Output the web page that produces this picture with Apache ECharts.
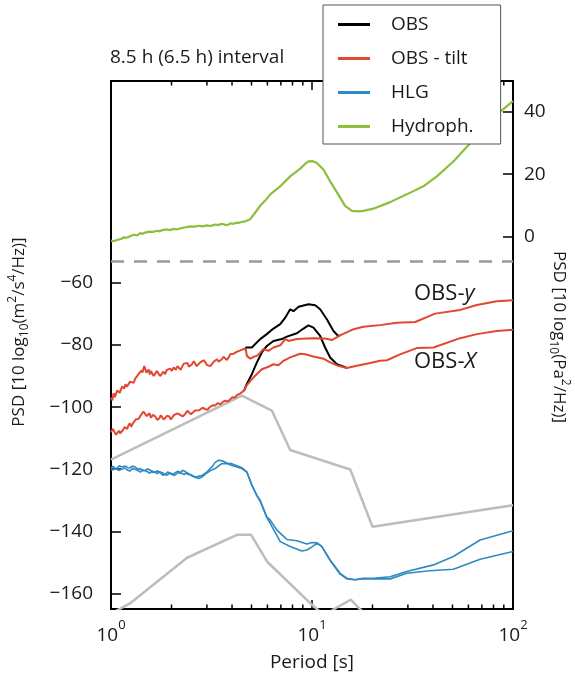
<!DOCTYPE html>
<html><head><meta charset="utf-8">
<script src="https://cdn.jsdelivr.net/npm/echarts@6/dist/echarts.min.js"></script>
<style>html,body{margin:0;padding:0;background:#fff}#c{width:575px;height:677px}</style>
</head><body><div id="c"></div>
<script>
// ---------- data (period [s], PSD) ----------
const periodMin = 1, periodMax = 100;
const minorPeriodTicks = [2,3,4,5,6,7,8,9,20,30,40,50,60,70,80,90];
const leftTickValues = [-160,-140,-120,-100,-80,-60];
const rightTickValues = [0,20,40];
const leftRange = [-165, 5];
const rightRange = [-120, 50];
const separatorLevel = -53;

const hydroph = [[1,-1.4],[1.03,-1.6],[1.05,-1.0],[1.08,-1.1],[1.1,-0.6],[1.13,-0.8],[1.16,-0.3],[1.19,-0.5],[1.22,-0.2],[1.26,0.2],[1.3,0.5],[1.35,0.3],[1.4,1.0],[1.44,0.8],[1.48,1.2],[1.55,1.5],[1.62,1.4],[1.69,1.8],[1.75,1.6],[1.8,2.0],[1.9,2.2],[1.97,2.0],[2.05,2.4],[2.12,2.2],[2.2,2.5],[2.35,2.9],[2.48,3.2],[2.6,3.1],[2.75,3.4],[2.85,3.2],[3.0,3.5],[3.1,3.3],[3.2,3.5],[3.3,3.8],[3.4,3.6],[3.5,3.9],[3.63,3.9],[3.75,3.6],[3.85,3.8],[3.95,4.2],[4.07,4.0],[4.2,4.4],[4.3,4.3],[4.45,4.6],[4.6,4.7],[4.93,5.5],[5.2,7.5],[5.52,9.8],[5.85,11.5],[6.2,13.5],[6.95,16.1],[7.79,19.3],[8.74,21.8],[9.2,23.2],[9.6,24.1],[10.1,24.2],[10.57,23.6],[11.4,21.5],[12.3,17.7],[13.5,13.5],[14.6,9.8],[15.8,8.2],[17,8.0],[18,8.2],[20.2,8.9],[24.5,11],[29.6,13.5],[35.8,16.1],[41.8,19.3],[50.5,24.1],[61.1,29.9],[76.9,37.4],[100,43.5]];

const obsTiltY = [[1,-96.9],[1.015,-97.8],[1.03,-95.5],[1.045,-96.8],[1.06,-96.2],[1.075,-94.6],[1.09,-94.2],[1.105,-95.4],[1.12,-94.8],[1.135,-93.4],[1.15,-93.1],[1.165,-94.0],[1.18,-92.6],[1.2,-93.4],[1.22,-93.0],[1.245,-91.8],[1.27,-91.5],[1.295,-92.2],[1.32,-90.8],[1.345,-90.1],[1.37,-89.4],[1.395,-89.9],[1.42,-88.2],[1.435,-88.9],[1.45,-87.6],[1.465,-86.8],[1.48,-87.0],[1.5,-88.9],[1.52,-88.5],[1.54,-87.9],[1.56,-89.5],[1.58,-88.4],[1.6,-88.8],[1.63,-90.0],[1.66,-89.6],[1.69,-88.4],[1.72,-88.8],[1.755,-90.0],[1.79,-89.3],[1.825,-88.6],[1.86,-89.4],[1.895,-88.0],[1.93,-88.5],[1.97,-87.6],[2.01,-88.3],[2.05,-87.2],[2.1,-88.0],[2.14,-86.8],[2.18,-87.2],[2.22,-88.0],[2.25,-87.2],[2.3,-86.0],[2.35,-86.5],[2.4,-85.8],[2.44,-87.0],[2.49,-86.4],[2.53,-86.2],[2.58,-85.2],[2.62,-85.9],[2.67,-86.8],[2.72,-86.3],[2.78,-85.6],[2.83,-85.1],[2.89,-84.9],[2.95,-85.6],[3.0,-86.4],[3.06,-85.9],[3.12,-86.8],[3.18,-86.2],[3.24,-85.4],[3.3,-85.0],[3.37,-84.6],[3.43,-85.4],[3.5,-84.8],[3.56,-84.6],[3.63,-83.8],[3.7,-84.2],[3.77,-84.8],[3.85,-84.0],[3.92,-83.0],[3.99,-83.5],[4.07,-82.8],[4.15,-83.2],[4.22,-82.2],[4.3,-82.6],[4.37,-81.8],[4.45,-82.2],[4.52,-81.4],[4.6,-81.6],[4.68,-81.2],[4.74,-83.5],[4.93,-84.4],[5.12,-83.8],[5.32,-83.5],[5.52,-82.5],[5.74,-81.3],[6.07,-81.9],[6.43,-80.8],[6.95,-80.1],[7.36,-78.1],[7.64,-78.7],[8.41,-78.1],[9.4,-77.9],[10.17,-77.8],[11.62,-77.9],[12.56,-78.4],[13.8,-76.9],[16.1,-74.9],[18,-74.1],[21.8,-73.6],[26.4,-72.8],[32.6,-72.6],[41,-69.9],[54.6,-68.7],[66.1,-67.1],[83,-65.9],[100,-65.6]];

const obsTiltX = [[1,-108.1],[1.02,-107.0],[1.04,-107.5],[1.06,-108.9],[1.08,-108.6],[1.095,-107.6],[1.11,-108.4],[1.13,-107.9],[1.15,-107.3],[1.17,-106.4],[1.19,-106.2],[1.205,-107.0],[1.22,-105.9],[1.24,-105.2],[1.26,-106.3],[1.28,-105.4],[1.3,-104.9],[1.33,-103.9],[1.37,-103.8],[1.395,-103.0],[1.42,-102.6],[1.45,-101.4],[1.48,-101.7],[1.505,-102.9],[1.53,-102.8],[1.555,-102.0],[1.58,-103.4],[1.62,-102.5],[1.66,-103.0],[1.7,-104.1],[1.74,-103.6],[1.77,-102.6],[1.8,-102.9],[1.83,-104.0],[1.86,-103.8],[1.9,-102.8],[1.95,-103.0],[1.985,-104.0],[2.02,-103.4],[2.055,-102.6],[2.09,-103.0],[2.14,-102.0],[2.2,-102.4],[2.27,-103.0],[2.34,-102.2],[2.4,-101.2],[2.45,-101.5],[2.5,-102.3],[2.55,-101.9],[2.62,-101.1],[2.68,-101.6],[2.75,-101.0],[2.85,-100.2],[2.94,-100.6],[3.02,-100.9],[3.1,-100.0],[3.2,-99.4],[3.3,-99.5],[3.4,-98.7],[3.5,-99.1],[3.6,-98.3],[3.7,-97.9],[3.8,-98.2],[3.9,-97.6],[4.02,-96.8],[4.15,-96.9],[4.22,-96.2],[4.3,-96.0],[4.4,-95.6],[4.48,-95.3],[4.6,-94.6],[4.74,-92.9],[5.12,-90.4],[5.63,-87.8],[6.07,-87.0],[6.43,-86.2],[6.81,-86.5],[7.21,-85.1],[7.79,-84.0],[8.73,-82.8],[9.25,-83.0],[10.17,-83.7],[11.4,-84.4],[12.31,-85.6],[13.5,-86.7],[14.9,-87.4],[16.7,-86.7],[19.5,-85.8],[21.8,-85.1],[23.6,-84.9],[27.4,-83.0],[33.2,-81.0],[40.2,-80.8],[54.6,-77.8],[66.1,-76.5],[83,-75.5],[100,-75.1]];

const obsRawY = [[4.6,-81.6],[4.68,-81.2],[4.71,-80.8],[5.02,-80.8],[5.52,-78.1],[5.96,-76.5],[6.43,-74.7],[6.95,-73.3],[7.36,-71.2],[7.79,-68.5],[8.09,-69.1],[8.57,-67.7],[9.6,-66.9],[10.37,-67.2],[10.98,-68.5],[11.85,-71.7],[12.79,-75.5],[13.5,-77.1],[13.8,-76.9]];

const obsRawX = [[4.6,-94.6],[4.71,-92.9],[5.02,-89.4],[5.32,-85.6],[5.63,-82.4],[5.96,-80.3],[6.43,-78.7],[7.08,-78.1],[7.5,-77.3],[8.41,-76.2],[9.07,-74.7],[9.6,-73.7],[10.17,-74.4],[10.98,-77.1],[11.62,-80.8],[12.31,-84.0],[13.3,-86.2],[14.3,-86.9],[14.9,-87.4]];

const hlgA = [[1,-119.8],[1.02,-119.0],[1.04,-119.2],[1.06,-120.0],[1.08,-119.6],[1.1,-118.9],[1.13,-119.3],[1.15,-119.9],[1.18,-119.0],[1.21,-119.5],[1.24,-119.6],[1.28,-119.0],[1.32,-119.3],[1.36,-120.0],[1.4,-119.8],[1.44,-120.5],[1.48,-120.4],[1.52,-119.9],[1.57,-120.3],[1.61,-121.0],[1.66,-120.9],[1.71,-120.5],[1.76,-121.2],[1.81,-121.9],[1.86,-121.7],[1.91,-120.9],[1.97,-121.2],[2.03,-121.6],[2.09,-121.1],[2.15,-120.6],[2.2,-121.4],[2.27,-120.3],[2.34,-120.7],[2.4,-121.6],[2.45,-121.2],[2.5,-121.8],[2.55,-122.0],[2.62,-122.5],[2.72,-122.3],[2.83,-122.0],[2.95,-121.3],[3.05,-120.4],[3.2,-119.0],[3.3,-117.8],[3.43,-117.1],[3.56,-117.3],[3.7,-117.7],[3.85,-118.3],[3.99,-118.8],[4.2,-119.2],[4.48,-119.8],[4.74,-120.9],[5.02,-125.2],[5.32,-128.4],[5.52,-130.0],[5.96,-135.3],[6.2,-136.4],[6.69,-139.6],[7.5,-142.6],[8.41,-143.0],[9.43,-144.1],[10.0,-143.6],[10.6,-143.7],[11.2,-144.9],[12.31,-149.2],[13.8,-153.5],[14.9,-155.1],[16.3,-155.6],[18,-155.1],[20.2,-155.1],[24.5,-154.6],[29.6,-152.9],[40.2,-150.8],[50.5,-148.1],[68.6,-142.8],[100,-139.8]];

const hlgB = [[1,-120.3],[1.02,-120.8],[1.04,-120.0],[1.065,-119.7],[1.09,-120.4],[1.115,-120.6],[1.14,-119.9],[1.17,-119.6],[1.2,-120.2],[1.24,-120.6],[1.28,-119.8],[1.32,-120.0],[1.36,-120.4],[1.4,-120.9],[1.44,-120.2],[1.48,-120.5],[1.52,-120.8],[1.56,-121.3],[1.6,-120.6],[1.65,-121.0],[1.7,-121.4],[1.75,-120.8],[1.8,-121.1],[1.85,-121.6],[1.9,-121.9],[1.95,-121.3],[2.0,-121.6],[2.06,-122.0],[2.12,-121.5],[2.18,-120.8],[2.25,-121.3],[2.31,-121.7],[2.38,-121.0],[2.44,-121.5],[2.5,-122.0],[2.62,-122.6],[2.73,-123.0],[2.85,-122.4],[3.0,-121.2],[3.15,-120.3],[3.3,-119.8],[3.45,-118.8],[3.56,-118.2],[3.75,-118.2],[3.99,-118.2],[4.2,-118.8],[4.48,-119.5],[4.74,-120.9],[5.02,-125.0],[5.32,-128.6],[5.52,-130.3],[5.96,-135.6],[6.2,-137.4],[6.95,-143.3],[7.79,-144.9],[8.9,-146.3],[9.43,-146.0],[10.0,-145.0],[10.6,-143.8],[11.2,-144.9],[12.31,-149.4],[13.8,-153.8],[14.9,-155.3],[16.3,-155.6],[18,-155.3],[20.2,-155.3],[24.5,-155.3],[29.6,-153.5],[38.6,-152.7],[50.5,-152.2],[68.6,-149.0],[100,-146.5]];

const highNoiseModel = [[1,-116.9],[4.48,-96.3],[6.31,-101.1],[7.79,-113.8],[15.5,-120.1],[20.0,-138.5],[100,-131.6]];
const lowNoiseModel = [[1,-166.5],[1.25,-163.1],[2.39,-148.5],[4.23,-141.1],[4.98,-141.1],[5.97,-149.7],[9.97,-163.6],[11.5,-167],[12.9,-165],[15.6,-162],[17.4,-165.2],[20,-168]];

// ---------- styling ----------
const FONT = 'Open Sans';
const TXT = '#1a1a1a';
const C_BLACK = '#000000', C_RED = '#e2472f', C_BLUE = '#3189c4', C_GREEN = '#8bbf3c', C_GRAY = '#bdbdbd';
const FS = 19;
const MINOR_LEN = 4.5;

const chart = echarts.init(document.getElementById('c'), null, {renderer: 'canvas'});

function lineSeries(name, data, color, width, yAxisIndex, extra) {
  return Object.assign({
    name, type: 'line', data, xAxisIndex: 0, yAxisIndex,
    showSymbol: false, symbol: 'none', animation: false, silent: true,
    lineStyle: {color, width}, itemStyle: {color}
  }, extra || {});
}

const axisLineStyle = {show: true, onZero: false, lineStyle: {color: '#000', width: 2}};
const tickStyle = {color: '#000', width: 1.5};
const nameRich = {
  sub: {fontFamily: FONT, fontSize: 12, color: TXT, lineHeight: 12, verticalAlign: 'bottom'},
  sup: {fontFamily: FONT, fontSize: 12, color: TXT, lineHeight: 12, verticalAlign: 'top'}
};
const labelRich = {
  n: {fontFamily: FONT, fontSize: 22, fill: TXT},
  i: {fontFamily: FONT, fontSize: 22, fill: TXT, fontStyle: 'italic'}
};

const option = {
  animation: false,
  backgroundColor: '#fff',
  textStyle: {fontFamily: FONT},
  title: {
    text: '8.5 h (6.5 h) interval', left: 110, top: 48, padding: 0,
    textStyle: {fontFamily: FONT, fontSize: FS, fontWeight: 'normal', color: TXT}
  },
  legend: {
    data: ['OBS', 'OBS - tilt', 'HLG', 'Hydroph.'],
    orient: 'vertical', left: 323, top: 5,
    padding: [10, 27, 8, 15], itemGap: 15,
    itemWidth: 32, itemHeight: 3, icon: 'rect',
    backgroundColor: '#fff', borderColor: '#555', borderWidth: 1, borderRadius: 0,
    textStyle: {fontFamily: FONT, fontSize: FS, color: TXT, padding: [0, 0, 0, 16]},
    z: 10
  },
  grid: {left: 111, right: 62, top: 81, bottom: 68, containLabel: false, outerBoundsMode: 'none'},
  graphic: [
    {type: 'text', left: 414, top: 283, z: 5, silent: true, style: {text: '{n|OBS-}{i|y}', rich: labelRich}},
    {type: 'text', left: 414, top: 351, z: 5, silent: true, style: {text: '{n|OBS-}{i|X}', rich: labelRich}}
  ],
  xAxis: [{
    type: 'log', logBase: 10, min: periodMin, max: periodMax, position: 'bottom',
    axisLine: axisLineStyle,
    axisTick: {show: true, inside: true, length: 9, lineStyle: tickStyle},
    splitLine: {show: false},
    axisLabel: {
      margin: 10,
      formatter: v => '{b|10}{s|' + Math.round(Math.log10(v)) + '}',
      rich: {
        b: {fontFamily: FONT, fontSize: FS, color: TXT, lineHeight: 26, verticalAlign: 'bottom'},
        s: {fontFamily: FONT, fontSize: 13, color: TXT, lineHeight: 14, verticalAlign: 'top'}
      }
    },
    name: 'Period [s]', nameLocation: 'middle', nameGap: 44,
    nameTextStyle: {fontFamily: FONT, fontSize: FS, color: TXT}
  }, {
    type: 'log', logBase: 10, min: periodMin, max: periodMax, position: 'top',
    axisLine: axisLineStyle,
    axisTick: {show: true, inside: true, length: 9, lineStyle: tickStyle},
    axisLabel: {show: false}, splitLine: {show: false}
  }],
  yAxis: [{
    type: 'value', min: leftRange[0], max: leftRange[1], position: 'left',
    axisLine: axisLineStyle,
    axisTick: {show: true, inside: true, length: 10, lineStyle: tickStyle, customValues: leftTickValues},
    axisLabel: {
      customValues: leftTickValues, margin: 18,
      fontFamily: FONT, fontSize: FS, color: TXT,
      formatter: v => (v < 0 ? '\u2212' : '') + Math.abs(v)
    },
    splitLine: {show: false},
    name: 'PSD [10 log{sub|10}(m{sup|2}/s{sup|4}/Hz)]',
    nameLocation: 'middle', nameGap: 80, nameMoveOverlap: false,
    nameTextStyle: {
      fontFamily: FONT, fontSize: 17, color: TXT, lineHeight: 24, padding: [0, 0, 0, 26],
      rich: nameRich
    }
  }, {
    type: 'value', min: rightRange[0], max: rightRange[1], position: 'right',
    axisLine: axisLineStyle,
    axisTick: {show: true, inside: true, length: 10, lineStyle: tickStyle, customValues: rightTickValues},
    axisLabel: {
      customValues: rightTickValues, margin: 11,
      fontFamily: FONT, fontSize: FS, color: TXT
    },
    splitLine: {show: false},
    name: 'PSD [10 log{sub|10}(Pa{sup|2}/Hz)]',
    nameLocation: 'middle', nameGap: 34, nameRotate: -90, nameMoveOverlap: false,
    nameTextStyle: {
      fontFamily: FONT, fontSize: 17, color: TXT, lineHeight: 24, padding: [0, 16, 0, 0],
      rich: nameRich
    }
  }],
  series: [
    lineSeries('NHNM', highNoiseModel, C_GRAY, 2.5, 0, {
      markLine: {
        silent: true, symbol: 'none', animation: false,
        label: {show: false},
        lineStyle: {color: '#999', width: 2.5, type: [13, 10]},
        data: [{yAxis: separatorLevel}]
      }
    }),
    lineSeries('NLNM', lowNoiseModel, C_GRAY, 2.5, 0),
    lineSeries('HLG', hlgA, C_BLUE, 1.6, 0),
    lineSeries('HLG', hlgB, C_BLUE, 1.6, 0),
    lineSeries('OBS', obsRawY, C_BLACK, 2, 0),
    lineSeries('OBS', obsRawX, C_BLACK, 2, 0),
    lineSeries('OBS - tilt', obsTiltY, C_RED, 2, 0),
    lineSeries('OBS - tilt', obsTiltX, C_RED, 2, 0),
    lineSeries('Hydroph.', hydroph, C_GREEN, 2.2, 1),
    {
      // minor log ticks (2..9, 20..90) on the bottom and top frame, placed by the log x axis
      name: 'minorTicks', type: 'custom', xAxisIndex: 0, yAxisIndex: 0,
      silent: true, clip: false, animation: false, z: 3,
      data: minorPeriodTicks.map(v => [v, leftRange[0]]),
      renderItem: function (params, api) {
        const x = api.coord([api.value(0), api.value(1)])[0];
        const cs = params.coordSys;
        const yb = cs.y + cs.height, yt = cs.y;
        const st = {stroke: '#000', lineWidth: 1.5, fill: null};
        return {type: 'group', children: [
          {type: 'line', shape: {x1: x, y1: yb, x2: x, y2: yb - MINOR_LEN}, style: st},
          {type: 'line', shape: {x1: x, y1: yt, x2: x, y2: yt + MINOR_LEN}, style: st}
        ]};
      }
    }
  ]
};

chart.setOption(option);
</script>
</body></html>
